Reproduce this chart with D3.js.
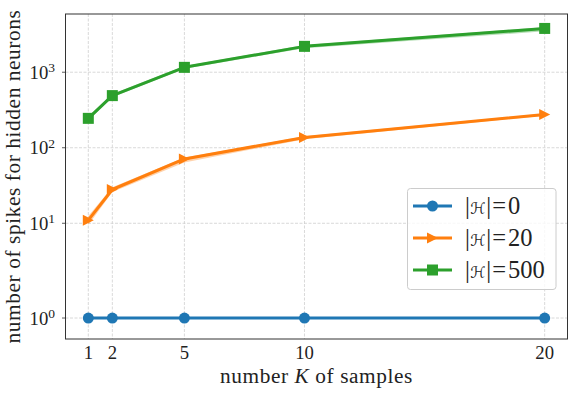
<!DOCTYPE html>
<html>
<head>
<meta charset="utf-8">
<script src="https://cdn.jsdelivr.net/npm/d3@7"></script>
<style>
  body { margin: 0; background: #fff; }
  svg { display: block; }
  .tick-label { font-family: "Liberation Serif", "DejaVu Serif", serif; font-size: 18.7px; fill: #222; }
  .axis-label { font-family: "Liberation Serif", "DejaVu Serif", serif; font-size: 21.3px; letter-spacing: 0.6px; fill: #222; }
  .legend-text { font-family: "Liberation Serif", "DejaVu Serif", serif; font-size: 24.5px; fill: #222; }
  .legend-cal { font-family: "DejaVu Serif", "DejaVu Sans", serif; }
</style>
</head>
<body>
<div id="chart"></div>
<script>
// data
const K = [1, 2, 5, 10, 20];
const xTicks = [1, 2, 5, 10, 20];
const yTicks = [1, 10, 100, 1000];
const yTickExp = ["0", "1", "2", "3"];

const h0Mean = [1, 1, 1, 1, 1];
const h20Mean = [11, 28, 71, 137, 276];
const h20Lo = [9.5, 26, 64, 130, 266];
const h20Hi = [12.5, 30, 74, 142, 284];
const h500Mean = [245, 490, 1160, 2200, 3800];
const h500Lo = [228, 465, 1110, 2080, 3480];
const h500Hi = [262, 515, 1210, 2300, 3950];

const seriesNames = ["0", "20", "500"];
const colors = ["#1f77b4", "#ff7f0e", "#2ca02c"];

// matplotlib-style symlog (linthresh 2, linscale 1)
const LT = 2, LA = 1 / (1 - 1 / 10);
function symlog(v) {
  const a = Math.abs(v);
  return a <= LT ? v * LA : Math.sign(v) * LT * (LA + Math.log10(a / LT));
}

const width = 574, height = 396;
const margin = { top: 14, right: 6.5, bottom: 57, left: 65.5 };
const innerW = width - margin.left - margin.right;
const innerH = height - margin.top - margin.bottom;

const x = d3.scaleLinear().domain([0.05, 20.95]).range([0, innerW]);
const yT = d3.scaleLinear().domain([symlog(0.5), symlog(5900)]).range([innerH, 0]);
const y = (v) => yT(symlog(v));

const svg = d3.select("#chart").append("svg").attr("width", width).attr("height", height);
const g = svg.append("g").attr("transform", `translate(${margin.left},${margin.top})`);

// grid
const grid = g.append("g").attr("class", "grid");
grid.selectAll("line.gx").data(xTicks).enter().append("line")
  .attr("x1", (d) => x(d)).attr("x2", (d) => x(d))
  .attr("y1", 0).attr("y2", innerH);
grid.selectAll("line.gy").data(yTicks).enter().append("line")
  .attr("x1", 0).attr("x2", innerW)
  .attr("y1", (d) => y(d)).attr("y2", (d) => y(d));
grid.selectAll("line")
  .attr("stroke", "#cfcfcf").attr("stroke-width", 0.8).attr("stroke-dasharray", "3,1.5");

// bands
const bands = [
  { lo: h20Lo, hi: h20Hi, color: colors[1] },
  { lo: h500Lo, hi: h500Hi, color: colors[2] }
];
const area = d3.area()
  .x((d) => x(d.k))
  .y0((d) => y(d.lo))
  .y1((d) => y(d.hi));
bands.forEach((b) => {
  g.append("path")
    .datum(K.map((k, i) => ({ k, lo: b.lo[i], hi: b.hi[i] })))
    .attr("d", area)
    .attr("fill", b.color)
    .attr("opacity", 0.35);
});

// lines + markers
const series = [h0Mean, h20Mean, h500Mean];
const line = d3.line().x((d) => x(d.k)).y((d) => y(d.v));
const ms = 11;
function marker(sel, i, color) {
  if (i === 0) {
    sel.append("circle").attr("r", ms / 2).attr("fill", color);
  } else if (i === 1) {
    sel.append("path")
      .attr("d", `M${ms / 2},0L${-ms / 2},${-ms / 2}L${-ms / 2},${ms / 2}Z`)
      .attr("fill", color);
  } else {
    sel.append("rect").attr("x", -ms / 2).attr("y", -ms / 2)
      .attr("width", ms).attr("height", ms).attr("fill", color);
  }
}
series.forEach((vals, i) => {
  const pts = K.map((k, j) => ({ k, v: vals[j] }));
  const sg = g.append("g");
  sg.append("path").datum(pts).attr("d", line)
    .attr("fill", "none").attr("stroke", colors[i]).attr("stroke-width", 3)
    .attr("stroke-linejoin", "round");
  sg.selectAll("g.m").data(pts).enter().append("g")
    .attr("transform", (d) => `translate(${x(d.k)},${y(d.v)})`)
    .each(function () { marker(d3.select(this), i, colors[i]); });
});

// frame
g.append("rect").attr("width", innerW).attr("height", innerH)
  .attr("fill", "none").attr("stroke", "#333").attr("stroke-width", 1);

// x axis labels
g.selectAll("text.xt").data(xTicks).enter().append("text")
  .attr("class", "tick-label")
  .attr("x", (d) => x(d)).attr("y", innerH + 20.3)
  .attr("text-anchor", "middle")
  .text((d) => d);

// y axis ticks and labels
g.selectAll("line.yt").data(yTicks).enter().append("line")
  .attr("x1", -3.5).attr("x2", 0)
  .attr("y1", (d) => y(d)).attr("y2", (d) => y(d))
  .attr("stroke", "#333").attr("stroke-width", 0.8);
const yl = g.selectAll("text.yl").data(yTicks).enter().append("text")
  .attr("class", "tick-label")
  .attr("x", -10.5).attr("y", (d) => y(d) + 6.5)
  .attr("text-anchor", "end");
yl.append("tspan").text("10");
yl.append("tspan").attr("font-size", "13.5px").attr("dy", -6.5).text((d, i) => yTickExp[i]);

// axis titles
const xl = g.append("text").attr("class", "axis-label")
  .attr("x", innerW / 2).attr("y", innerH + 43.5)
  .attr("text-anchor", "middle");
xl.append("tspan").text("number ");
xl.append("tspan").attr("font-style", "italic").text("K");
xl.append("tspan").text(" of samples");

g.append("text").attr("class", "axis-label")
  .attr("transform", `translate(${-margin.left + 19.5},${innerH / 2}) rotate(-90)`)
  .attr("text-anchor", "middle")
  .text("number of spikes for hidden neurons");

// legend
const lg = svg.append("g").attr("transform", "translate(407.5,188.5)");
lg.append("rect").attr("width", 148.5).attr("height", 101).attr("rx", 3)
  .attr("fill", "#fff").attr("fill-opacity", 0.8)
  .attr("stroke", "#cccccc").attr("stroke-width", 1);
seriesNames.forEach((name, i) => {
  const ey = 17.5 + i * 32;
  const eg = lg.append("g").attr("transform", `translate(0,${ey})`);
  eg.append("line").attr("x1", 5.5).attr("x2", 44.5)
    .attr("stroke", colors[i]).attr("stroke-width", 3);
  const mg = eg.append("g").attr("transform", "translate(25,0)");
  marker(mg, i, colors[i]);

  // label "|H| = n", laid out piece by piece from measured widths
  const t = eg.append("text").attr("class", "legend-text").attr("y", 7.5);
  const bar1 = t.append("tspan").text("|");
  const cal = t.append("tspan").attr("class", "legend-cal").attr("font-size", "21px").text("ℋ");
  const bar2 = t.append("tspan").text("|");
  const eq = t.append("tspan").text("=");
  const num = t.append("tspan").text(name);
  const wCal0 = cal.node().getComputedTextLength() || 15;
  cal.attr("font-size", Math.min(24, 21 * 15.5 / wCal0) + "px");
  let cx = 57.4;
  bar1.attr("x", cx);
  cx += bar1.node().getComputedTextLength() + 0.5;
  cal.attr("x", cx);
  cx += cal.node().getComputedTextLength() + 0.5;
  bar2.attr("x", cx);
  cx += bar2.node().getComputedTextLength() + 1;
  eq.attr("x", cx);
  cx += eq.node().getComputedTextLength() + 2;
  num.attr("x", cx);
});
</script>
</body>
</html>
